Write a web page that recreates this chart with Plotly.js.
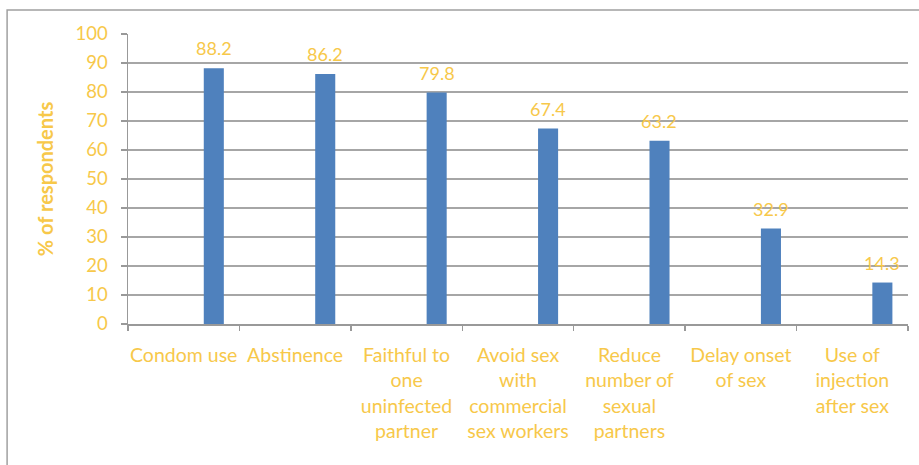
<!DOCTYPE html>
<html>
<head>
<meta charset="utf-8">
<script src="https://cdn.plot.ly/plotly-3.0.1.min.js"></script>
<style>
html,body{margin:0;padding:0;background:#fff;}
#chart{width:919px;height:465px;}
</style>
</head>
<body>
<div id="chart"></div>
<script>
const categories = [
  "Condom use",
  "Abstinence",
  "Faithful to<br>one<br>uninfected<br>partner",
  "Avoid sex<br>with<br>commercial<br>sex workers",
  "Reduce<br>number of<br>sexual<br>partners",
  "Delay onset<br>of sex",
  "Use of<br>injection<br>after sex"
];
const values = [88.2, 86.2, 79.8, 67.4, 63.2, 32.9, 14.3];
const valueLabels = ["88.2", "86.2", "79.8", "67.4", "63.2", "32.9", "14.3"];
const yTicks = [0, 10, 20, 30, 40, 50, 60, 70, 80, 90, 100];
const yTitle = "% of respondents";

const gold = "#F7C84A";
const fontFam = "Lato, 'Open Sans', sans-serif";

const trace = {
  type: "bar",
  x: categories,
  y: values,
  marker: {color: "#4F81BD"},
  width: 0.18,
  offset: 0.18,
  hoverinfo: "skip"
};

const annotations = categories.map((c, i) => ({
  x: c,
  y: values[i],
  xref: "x",
  yref: "y",
  text: valueLabels[i],
  showarrow: false,
  xanchor: "center",
  yanchor: "bottom",
  xshift: 30,
  yshift: 7,
  font: {size: 18, color: gold, family: fontFam}
}));

const layout = {
  width: 919,
  height: 465,
  margin: {l: 128, r: 11, t: 34, b: 141},
  paper_bgcolor: "#fff",
  plot_bgcolor: "#fff",
  showlegend: false,
  font: {family: fontFam, color: gold},
  annotations: annotations,
  xaxis: {
    type: "category",
    showgrid: false,
    showline: true,
    linecolor: "#999",
    linewidth: 1.5,
    ticks: "outside",
    tickson: "boundaries",
    ticklen: 5,
    tickcolor: "#999",
    tickwidth: 1.5,
    tickfont: {size: 19.5, color: gold, family: fontFam},
    ticklabelstandoff: 13,
    tickangle: 0,
    fixedrange: true
  },
  yaxis: {
    range: [0, 100],
    tickvals: yTicks,
    ticktext: yTicks.map(String),
    showgrid: true,
    gridcolor: "#A6A6A6",
    gridwidth: 1.5,
    zeroline: false,
    showline: true,
    linecolor: "#999",
    linewidth: 1.5,
    ticks: "outside",
    ticklen: 6,
    tickcolor: "#999",
    tickwidth: 1.5,
    tickfont: {size: 18.5, color: gold, family: fontFam},
    ticklabelstandoff: 9,
    title: {text: yTitle, font: {size: 20, color: gold, family: fontFam, weight: "bold"}, standoff: 16},
    fixedrange: true
  },
  shapes: [{
    type: "rect",
    xref: "paper", yref: "paper",
    x0: -0.155, x1: 1.03,
    y0: -0.6, y1: 1.083,
    line: {color: "#A0A0A0", width: 1.5},
    fillcolor: "rgba(0,0,0,0)",
    layer: "below"
  }]
};

Plotly.newPlot("chart", [trace], layout, {displayModeBar: false, staticPlot: true});
</script>
</body>
</html>
